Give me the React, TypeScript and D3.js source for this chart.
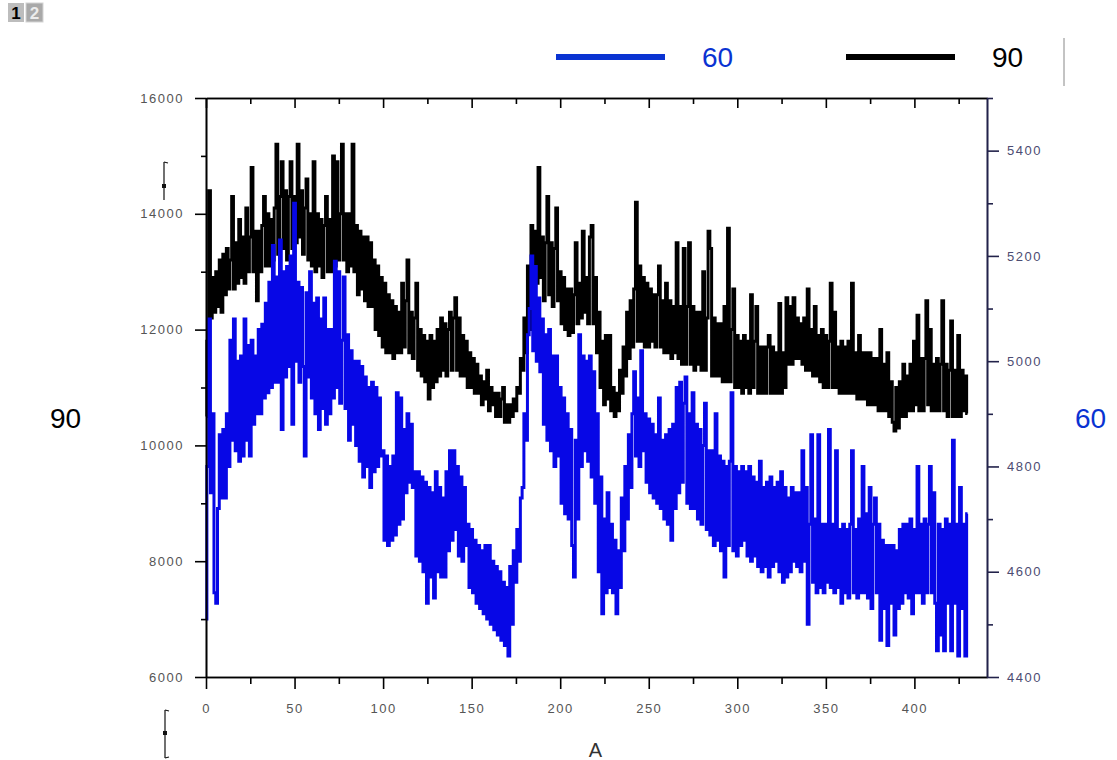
import React, { useRef, useEffect } from 'react';
import * as d3 from 'd3';

// series "90" (left axis), one value per A = 0..430
const black90 = [
  10500, 11800, 14400, 12200, 12900, 12300, 13000, 12400, 13200, 12300,
  13300, 12600, 13400, 12700, 13200, 14300, 12700, 13500, 12800, 13900,
  12900, 13600, 12800, 14100, 13000, 13600, 14800, 13000, 13700, 12500,
  13700, 13000, 13800, 14300, 13100, 14000, 13100, 13900, 13200, 14100,
  15200, 13300, 14300, 14900, 13400, 14400, 13200, 14300, 14900, 13400,
  14300, 13500, 15200, 13600, 14400, 13300, 14100, 14600, 13200, 14000,
  13100, 14900, 13000, 14000, 13100, 13900, 12900, 13800, 14300, 13000,
  13900, 13000, 15000, 13100, 14900, 13200, 14000, 15200, 13200, 14000,
  13000, 14000, 13100, 15200, 13000, 13800, 12600, 13700, 12700, 13600,
  12500, 13600, 12400, 13500, 12400, 13200, 12000, 13100, 11900, 12900,
  11700, 12800, 11600, 12600, 11600, 12500, 11500, 12400, 11600, 12300,
  11600, 12800, 11700, 12500, 13200, 11600, 12300, 11500, 12200, 12800,
  11300, 12000, 11200, 11900, 11100, 11800, 10800, 11900, 11000, 11800,
  11100, 12000, 11200, 12200, 11300, 12100, 11200, 12000, 12300, 11300,
  12200, 12550, 11300, 12200, 11200, 11900, 11200, 11800, 11000, 11600,
  11000, 11500, 10900, 11400, 10900, 11200, 10700, 11100, 10800, 11300,
  10600, 11000, 10700, 10900, 10500, 10900, 10500, 10800, 11000, 10400,
  10700, 10400, 10700, 10500, 10800, 10600, 11000, 10900, 11500, 11300,
  12200, 11600, 13100, 12000, 13800, 12700, 13700, 12800, 14800, 12900,
  13600, 12500, 13500, 14300, 12600, 13500, 12400, 13400, 14100, 12500,
  13000, 12100, 12900, 12000, 12700, 11900, 12700, 11950, 12600, 13500,
  12100, 12800, 12200, 13700, 12300, 12900, 12100, 13600, 13800, 12100,
  12900, 11600, 12300, 11000, 11800, 10700, 11900, 10800, 11900, 10600,
  11000, 10500, 10900, 10600, 11300, 10900, 11700, 11200, 12300, 11500,
  12500, 11700, 12700, 14200, 11800, 13100, 11800, 12900, 11700, 12800,
  11700, 12700, 11800, 12600, 11700, 12600, 13100, 11700, 12500, 11600,
  12800, 11600, 12500, 11500, 12400, 11600, 13500, 11500, 12400, 11400,
  13400, 11400, 12400, 13500, 11400, 12400, 11300, 12300, 11400, 12300,
  11300, 13000, 11300, 12200, 13700, 13400, 11200, 12200, 11200, 12100,
  11200, 12100, 11100, 12400, 11100, 13750, 11100, 12000, 12700, 11000,
  11900, 11000, 11800, 10900, 11900, 11000, 11800, 10900, 12600, 11000,
  11800, 12400, 10900, 11700, 10900, 11700, 10900, 11700, 11900, 10900,
  11700, 10900, 11600, 10900, 12450, 10900, 11600, 11000, 12550, 11400,
  12400, 11400, 12550, 11500, 12200, 11500, 12100, 11400, 12200, 11300,
  12700, 11300, 12000, 11200, 12400, 11200, 11900, 11100, 12000, 11000,
  11900, 11000, 11800, 12800, 11000, 12300, 11000, 11700, 10900, 11800,
  10900, 11700, 10900, 11800, 10900, 12800, 10900, 11600, 10800, 11900,
  10800, 11600, 10800, 11600, 10700, 11600, 10700, 11500, 10700, 11500,
  10600, 12000, 10600, 11400, 10600, 11600, 10500, 11100, 10400, 10250,
  11000, 10300, 11100, 10500, 11400, 10500, 11200, 10600, 11400, 10600,
  11800, 10700, 12250, 10600, 11500, 10600, 11500, 12500, 10700, 12000,
  10600, 11400, 10600, 11500, 10600, 11400, 12500, 10600, 11400, 10500,
  11300, 12150, 10500, 11300, 10500, 11900, 10500, 11300, 10600, 11200,
  10550,
];

// series "60" (right axis), one value per A = 0..430
const blue60 = [
  4510, 4800, 5080, 4750, 4900, 4560, 4540, 4720, 4860, 4740,
  4870, 4740, 4900, 4800, 5040, 4850, 5080, 4830, 5000, 4810,
  5010, 4820, 5080, 4850, 5030, 4820, 5040, 4880, 5010, 4900,
  5060, 4900, 5070, 4930, 5110, 4940, 5150, 4950, 5220, 4960,
  5160, 4960, 5230, 4870, 5170, 4970, 5180, 4990, 5200, 4880,
  5300, 5000, 5150, 4960, 5140, 4990, 4820, 5130, 4970, 5170,
  4930, 5110, 4900, 5120, 4870, 5080, 4910, 5120, 4880, 5060,
  4900, 5060, 4930, 5190, 4950, 5170, 4920, 5040, 5160, 4910,
  5050, 4850, 5020, 4880, 5000, 4840, 5000, 4810, 4990, 4780,
  4970, 4800, 4950, 4760, 4960, 4790, 4950, 4800, 4930, 4820,
  4830, 4660, 4820, 4650, 4800, 4660, 4820, 4670, 4940, 4690,
  4930, 4700, 4870, 4750, 4900, 4770, 4880, 4760, 4790, 4630,
  4790, 4620, 4780, 4600, 4770, 4540, 4760, 4590, 4750, 4550,
  4790, 4600, 4760, 4590, 4740, 4590, 4790, 4640, 4830, 4660,
  4830, 4680, 4800, 4630, 4780, 4620, 4760, 4650, 4690, 4570,
  4680, 4560, 4660, 4540, 4650, 4530, 4640, 4520, 4650, 4510,
  4650, 4500, 4620, 4490, 4610, 4480, 4600, 4470, 4580, 4460,
  4570, 4440, 4610, 4500, 4640, 4580, 4680, 4620, 4740, 4760,
  4900, 4850, 5050, 5100, 5200, 5020, 5180, 5000, 5120, 4980,
  5080, 4880, 5050, 4850, 5060, 4830, 5010, 4800, 5010, 4820,
  4950, 4730, 4930, 4710, 4900, 4700, 4870, 4650, 4590, 4850,
  4700, 5050, 4800, 5010, 4830, 5000, 4810, 5010, 4780, 4980,
  4730, 4900, 4600, 4780, 4520, 4700, 4560, 4750, 4570, 4690,
  4560, 4660, 4520, 4640, 4570, 4740, 4640, 4800, 4700, 4860,
  4760, 4900, 4980, 4820, 4930, 4800, 5020, 4830, 4900, 4770,
  4890, 4750, 4880, 4740, 4860, 4730, 4930, 4720, 4850, 4700,
  4860, 4690, 4870, 4660, 4880, 4720, 4950, 4750, 4960, 4770,
  4920, 4970, 4730, 4900, 4720, 4940, 4720, 4880, 4700, 4870,
  4690, 4840, 4920, 4680, 4830, 4670, 4830, 4650, 4900, 4660,
  4820, 4640, 4810, 4590, 4800, 4650, 4810, 4940, 4640, 4800,
  4630, 4790, 4650, 4800, 4660, 4790, 4630, 4800, 4620, 4780,
  4630, 4770, 4610, 4810, 4600, 4760, 4610, 4770, 4590, 4780,
  4610, 4760, 4620, 4770, 4600, 4790, 4580, 4760, 4590, 4740,
  4600, 4760, 4620, 4750, 4610, 4750, 4600, 4830, 4620, 4760,
  4500, 4690, 4860, 4580, 4700, 4560, 4860, 4570, 4690, 4560,
  4690, 4580, 4870, 4570, 4690, 4560, 4830, 4570, 4680, 4540,
  4690, 4560, 4680, 4550, 4690, 4830, 4560, 4680, 4550, 4700,
  4560, 4800, 4560, 4710, 4550, 4760, 4530, 4690, 4740, 4560,
  4690, 4470, 4660, 4530, 4650, 4460, 4650, 4540, 4650, 4480,
  4640, 4530, 4680, 4540, 4690, 4560, 4690, 4550, 4700, 4520,
  4680, 4560, 4800, 4560, 4690, 4540, 4700, 4560, 4690, 4800,
  4560, 4750, 4540, 4450, 4690, 4480, 4680, 4450, 4700, 4540,
  4690, 4450, 4850, 4540, 4690, 4440, 4760, 4530, 4690, 4440,
  4710,
];

const xMajor = [0, 50, 100, 150, 200, 250, 300, 350, 400];
const xMinor = [25, 75, 125, 175, 225, 275, 325, 375, 425];
const leftMajor = [6000, 8000, 10000, 12000, 14000, 16000];
const leftMinor = [7000, 9000, 11000, 13000, 15000];
const rightMajor = [4400, 4600, 4800, 5000, 5200, 5400];
const rightMinor = [4500, 4700, 4900, 5100, 5300, 5500];

const seriesNames = ['60', '90'];
const axisTitle = 'A';

const FONT = '"Liberation Sans", Arial, sans-serif';
const BLUE = '#0707e6';
const LEGEND_BLUE = '#0a33d2';

const App = () => {
  const ref = useRef(null);

  useEffect(() => {
    const svg = d3.select(ref.current);
    svg.selectAll('*').remove();

    const left = 206, right = 987, top = 98, bottom = 677;

    const x = d3.scaleLinear().domain([0, 441]).range([left, right]);
    const yL = d3.scaleLinear().domain([6000, 16000]).range([bottom, top]);
    const yR = d3.scaleLinear().domain([4400, 5500]).range([bottom, top]);

    const styleAxis = (g, color, labelColor) => {
      g.select('.domain').attr('stroke', color).attr('stroke-width', 1.6);
      g.selectAll('.tick line').attr('stroke', color).attr('stroke-width', 1.6);
      g.selectAll('.tick text')
        .attr('fill', labelColor)
        .attr('font-family', FONT)
        .attr('font-size', 13)
        .attr('letter-spacing', 1.5);
    };

    // data lines, drawn as steps like the original plot
    const lineBlack = d3.line<number>().x((_, i) => x(i)).y(d => yL(d)).curve(d3.curveStep);
    const lineBlue = d3.line<number>().x((_, i) => x(i)).y(d => yR(d)).curve(d3.curveStep);

    svg.append('path')
      .datum(black90)
      .attr('fill', 'none')
      .attr('stroke', '#000')
      .attr('stroke-width', 3)
      .attr('stroke-linejoin', 'miter')
      .attr('d', lineBlack);

    svg.append('path')
      .datum(blue60)
      .attr('fill', 'none')
      .attr('stroke', BLUE)
      .attr('stroke-width', 3)
      .attr('stroke-linejoin', 'miter')
      .attr('d', lineBlue);

    // bottom axis
    svg.append('g')
      .attr('transform', `translate(0,${bottom})`)
      .call(d3.axisBottom(x).tickValues(xMinor).tickSize(7).tickSizeOuter(0).tickFormat(() => ''))
      .call(g => styleAxis(g, '#000', '#555'));
    svg.append('g')
      .attr('transform', `translate(0,${bottom})`)
      .call(d3.axisBottom(x).tickValues(xMajor).tickSize(12).tickSizeOuter(0).tickPadding(15))
      .call(g => styleAxis(g, '#000', '#555'));

    // top axis, ticks inward
    svg.append('g')
      .attr('transform', `translate(0,${top})`)
      .call(d3.axisTop(x).tickValues(xMinor).tickSize(-6).tickSizeOuter(0).tickFormat(() => ''))
      .call(g => styleAxis(g, '#000', '#555'));
    svg.append('g')
      .attr('transform', `translate(0,${top})`)
      .call(d3.axisTop(x).tickValues(xMajor).tickSize(-10).tickSizeOuter(0).tickFormat(() => ''))
      .call(g => styleAxis(g, '#000', '#555'));

    // left axis
    svg.append('g')
      .attr('transform', `translate(${left},0)`)
      .call(d3.axisLeft(yL).tickValues(leftMinor).tickSize(5).tickSizeOuter(0).tickFormat(() => ''))
      .call(g => styleAxis(g, '#000', '#555'));
    svg.append('g')
      .attr('transform', `translate(${left},0)`)
      .call(d3.axisLeft(yL).tickValues(leftMajor).tickSize(11).tickSizeOuter(0).tickPadding(11).tickFormat(d3.format('d')))
      .call(g => styleAxis(g, '#000', '#555'));

    // right axis
    svg.append('g')
      .attr('transform', `translate(${right},0)`)
      .call(d3.axisRight(yR).tickValues(rightMinor).tickSize(6).tickSizeOuter(0).tickFormat(() => ''))
      .call(g => styleAxis(g, '#22224a', '#555'));
    svg.append('g')
      .attr('transform', `translate(${right},0)`)
      .call(d3.axisRight(yR).tickValues(rightMajor).tickSize(12).tickSizeOuter(0).tickPadding(8).tickFormat(d3.format('d')))
      .call(g => styleAxis(g, '#22224a', '#4c4c72'));

    // axis titles
    svg.append('text')
      .attr('x', (left + right) / 2 - 1)
      .attr('y', 757)
      .attr('text-anchor', 'middle')
      .attr('font-family', FONT)
      .attr('font-size', 20)
      .attr('fill', '#333')
      .text(axisTitle);

    svg.append('text')
      .attr('x', 50)
      .attr('y', 428)
      .attr('font-family', FONT)
      .attr('font-size', 28)
      .attr('fill', '#000')
      .text(seriesNames[1]);

    svg.append('text')
      .attr('x', 1075)
      .attr('y', 428)
      .attr('font-family', FONT)
      .attr('font-size', 28)
      .attr('fill', LEGEND_BLUE)
      .text(seriesNames[0]);

    // legend
    const legend = [
      { name: seriesNames[0], color: LEGEND_BLUE, x0: 556, textColor: LEGEND_BLUE },
      { name: seriesNames[1], color: '#000', x0: 846, textColor: '#000' },
    ];
    legend.forEach(l => {
      svg.append('line')
        .attr('x1', l.x0).attr('x2', l.x0 + 109)
        .attr('y1', 57).attr('y2', 57)
        .attr('stroke', l.color)
        .attr('stroke-width', 6);
      svg.append('text')
        .attr('x', l.x0 + 146)
        .attr('y', 67)
        .attr('font-family', FONT)
        .attr('font-size', 28)
        .attr('fill', l.textColor)
        .text(l.name);
    });
    svg.append('line')
      .attr('x1', 1064).attr('x2', 1064)
      .attr('y1', 38).attr('y2', 86)
      .attr('stroke', '#888')
      .attr('stroke-width', 1);

    // small layer markers beside the left axis
    const marker = (x0, y0, y1, ym, bottomTick) => {
      svg.append('line').attr('x1', x0).attr('x2', x0).attr('y1', y0).attr('y2', y1)
        .attr('stroke', '#111').attr('stroke-width', 1.2);
      svg.append('line').attr('x1', x0).attr('x2', x0 + 4).attr('y1', y0).attr('y2', y0 + 1)
        .attr('stroke', '#111').attr('stroke-width', 1.2);
      if (bottomTick) {
        svg.append('line').attr('x1', x0).attr('x2', x0 + 4).attr('y1', y1).attr('y2', y1 - 1)
          .attr('stroke', '#111').attr('stroke-width', 1.2);
      }
      svg.append('rect').attr('x', x0 - 2).attr('y', ym - 2).attr('width', 4).attr('height', 4)
        .attr('fill', '#111');
    };
    marker(164, 162, 200, 186, false);
    marker(165, 710, 758, 733, true);

    // page tabs
    const tabs = svg.append('g');
    tabs.append('rect').attr('x', 8).attr('y', 3).attr('width', 16).attr('height', 19).attr('fill', '#bdbdbd');
    tabs.append('text').attr('x', 16).attr('y', 19).attr('text-anchor', 'middle')
      .attr('font-family', FONT).attr('font-weight', 'bold').attr('font-size', 17).attr('fill', '#000').text('1');
    tabs.append('rect').attr('x', 26).attr('y', 3).attr('width', 17).attr('height', 19)
      .attr('fill', '#a9a9a9').attr('stroke', '#d4d4d4').attr('stroke-width', 1);
    tabs.append('text').attr('x', 34.5).attr('y', 19).attr('text-anchor', 'middle')
      .attr('font-family', FONT).attr('font-weight', 'bold').attr('font-size', 17).attr('fill', '#ececec').text('2');
  }, []);

  return (
    <svg
      ref={ref}
      width={1117}
      height={760}
      style={{ position: 'absolute', left: 0, top: 0, background: '#fff' }}
    />
  );
};

export default App;
